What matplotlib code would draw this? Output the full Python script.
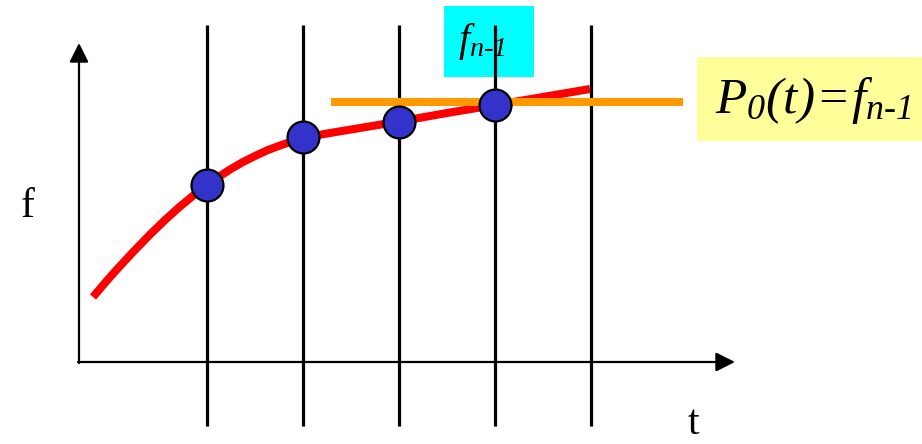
import numpy as np
import matplotlib.pyplot as plt
from matplotlib.patches import Rectangle

plt.rcParams['font.family'] = ['Liberation Serif', 'DejaVu Serif']
plt.rcParams['mathtext.fontset'] = 'custom'
# the slide sets the whole formula in italic, digits included
plt.rcParams['mathtext.rm'] = 'Liberation Serif:italic'
plt.rcParams['mathtext.it'] = 'Liberation Serif:italic'

# sample times (vertical grid lines) and known values at the first four
node_t = [207, 303, 399, 495, 591]
node_f = [185, 137, 122, 105]

# the underlying function f(t)
curve_t = [93, 107, 120, 135, 150, 165, 180, 194, 207, 220, 230, 243, 255, 268,
           280, 292, 303, 327, 351, 375, 399, 447, 495, 543, 590]
curve_f = [297, 280.5, 266, 250, 234.5, 220, 206.5, 195, 185, 176, 169.5, 162, 156, 150,
           145.5, 141.5, 138, 133.5, 129.5, 125.5, 121.5, 113, 105, 97, 89]

# zero-order extrapolation P0(t) = f_{n-1}
hold_level = 102
hold_span = [331, 683]

# axes frame
origin = (79, 362)
t_axis_end = 735
f_axis_end = 43
grid_top, grid_bottom = 25, 426

fig = plt.figure(figsize=(9.22, 4.44), dpi=100)
ax = fig.add_axes([0, 0, 1, 1])
ax.set_xlim(0, 922)
ax.set_ylim(444, 0)
ax.axis('off')

# vertical lines at sample times
for t in node_t:
    ax.plot([t, t], [grid_top, grid_bottom], color='black', lw=2.3, solid_capstyle='butt', zorder=2)

# axes with arrows
arrow = dict(arrowstyle='-|>,head_length=0.4,head_width=0.2', mutation_scale=29,
             lw=1.6, color='black', shrinkA=0, shrinkB=0)
ax.annotate('', xy=(t_axis_end, origin[1]), xytext=(origin[0] - 1, origin[1]), arrowprops=arrow)
ax.annotate('', xy=(origin[0], f_axis_end), xytext=(origin[0], origin[1] + 1), arrowprops=arrow)

# function curve
ax.plot(curve_t, curve_f, color='#ff0000', lw=5.8, solid_capstyle='butt',
        solid_joinstyle='round', zorder=3)

# sampled points
ax.plot(node_t[:4], node_f, 'o', ms=23, mfc='#3333cc', mec='black', mew=1.6, zorder=5)

# constant extrapolation line
ax.plot(hold_span, [hold_level, hold_level], color='#ff9900', lw=5.8,
        solid_capstyle='butt', zorder=4)

# labels
ax.text(28, 217, 'f', fontsize=30, ha='center', va='baseline')
ax.text(693, 443, 't', fontsize=30, ha='center', va='bottom')

sub = r'_{n\text{-}1}'
ax.add_patch(Rectangle((444, 6), 90, 71, facecolor='#00ffff', edgecolor='none', zorder=1))
ax.text(482, 42, r'$f' + sub + '$', fontsize=29, ha='center', va='center', zorder=6)

ax.add_patch(Rectangle((697, 57), 225, 84, facecolor='#ffff99', edgecolor='none', zorder=1))
ax.text(813, 100, r'$P_{0}(t)\!=\!f' + sub + '$', fontsize=37,
        ha='center', va='center', zorder=6)

fig.savefig('out.png', dpi=100)
